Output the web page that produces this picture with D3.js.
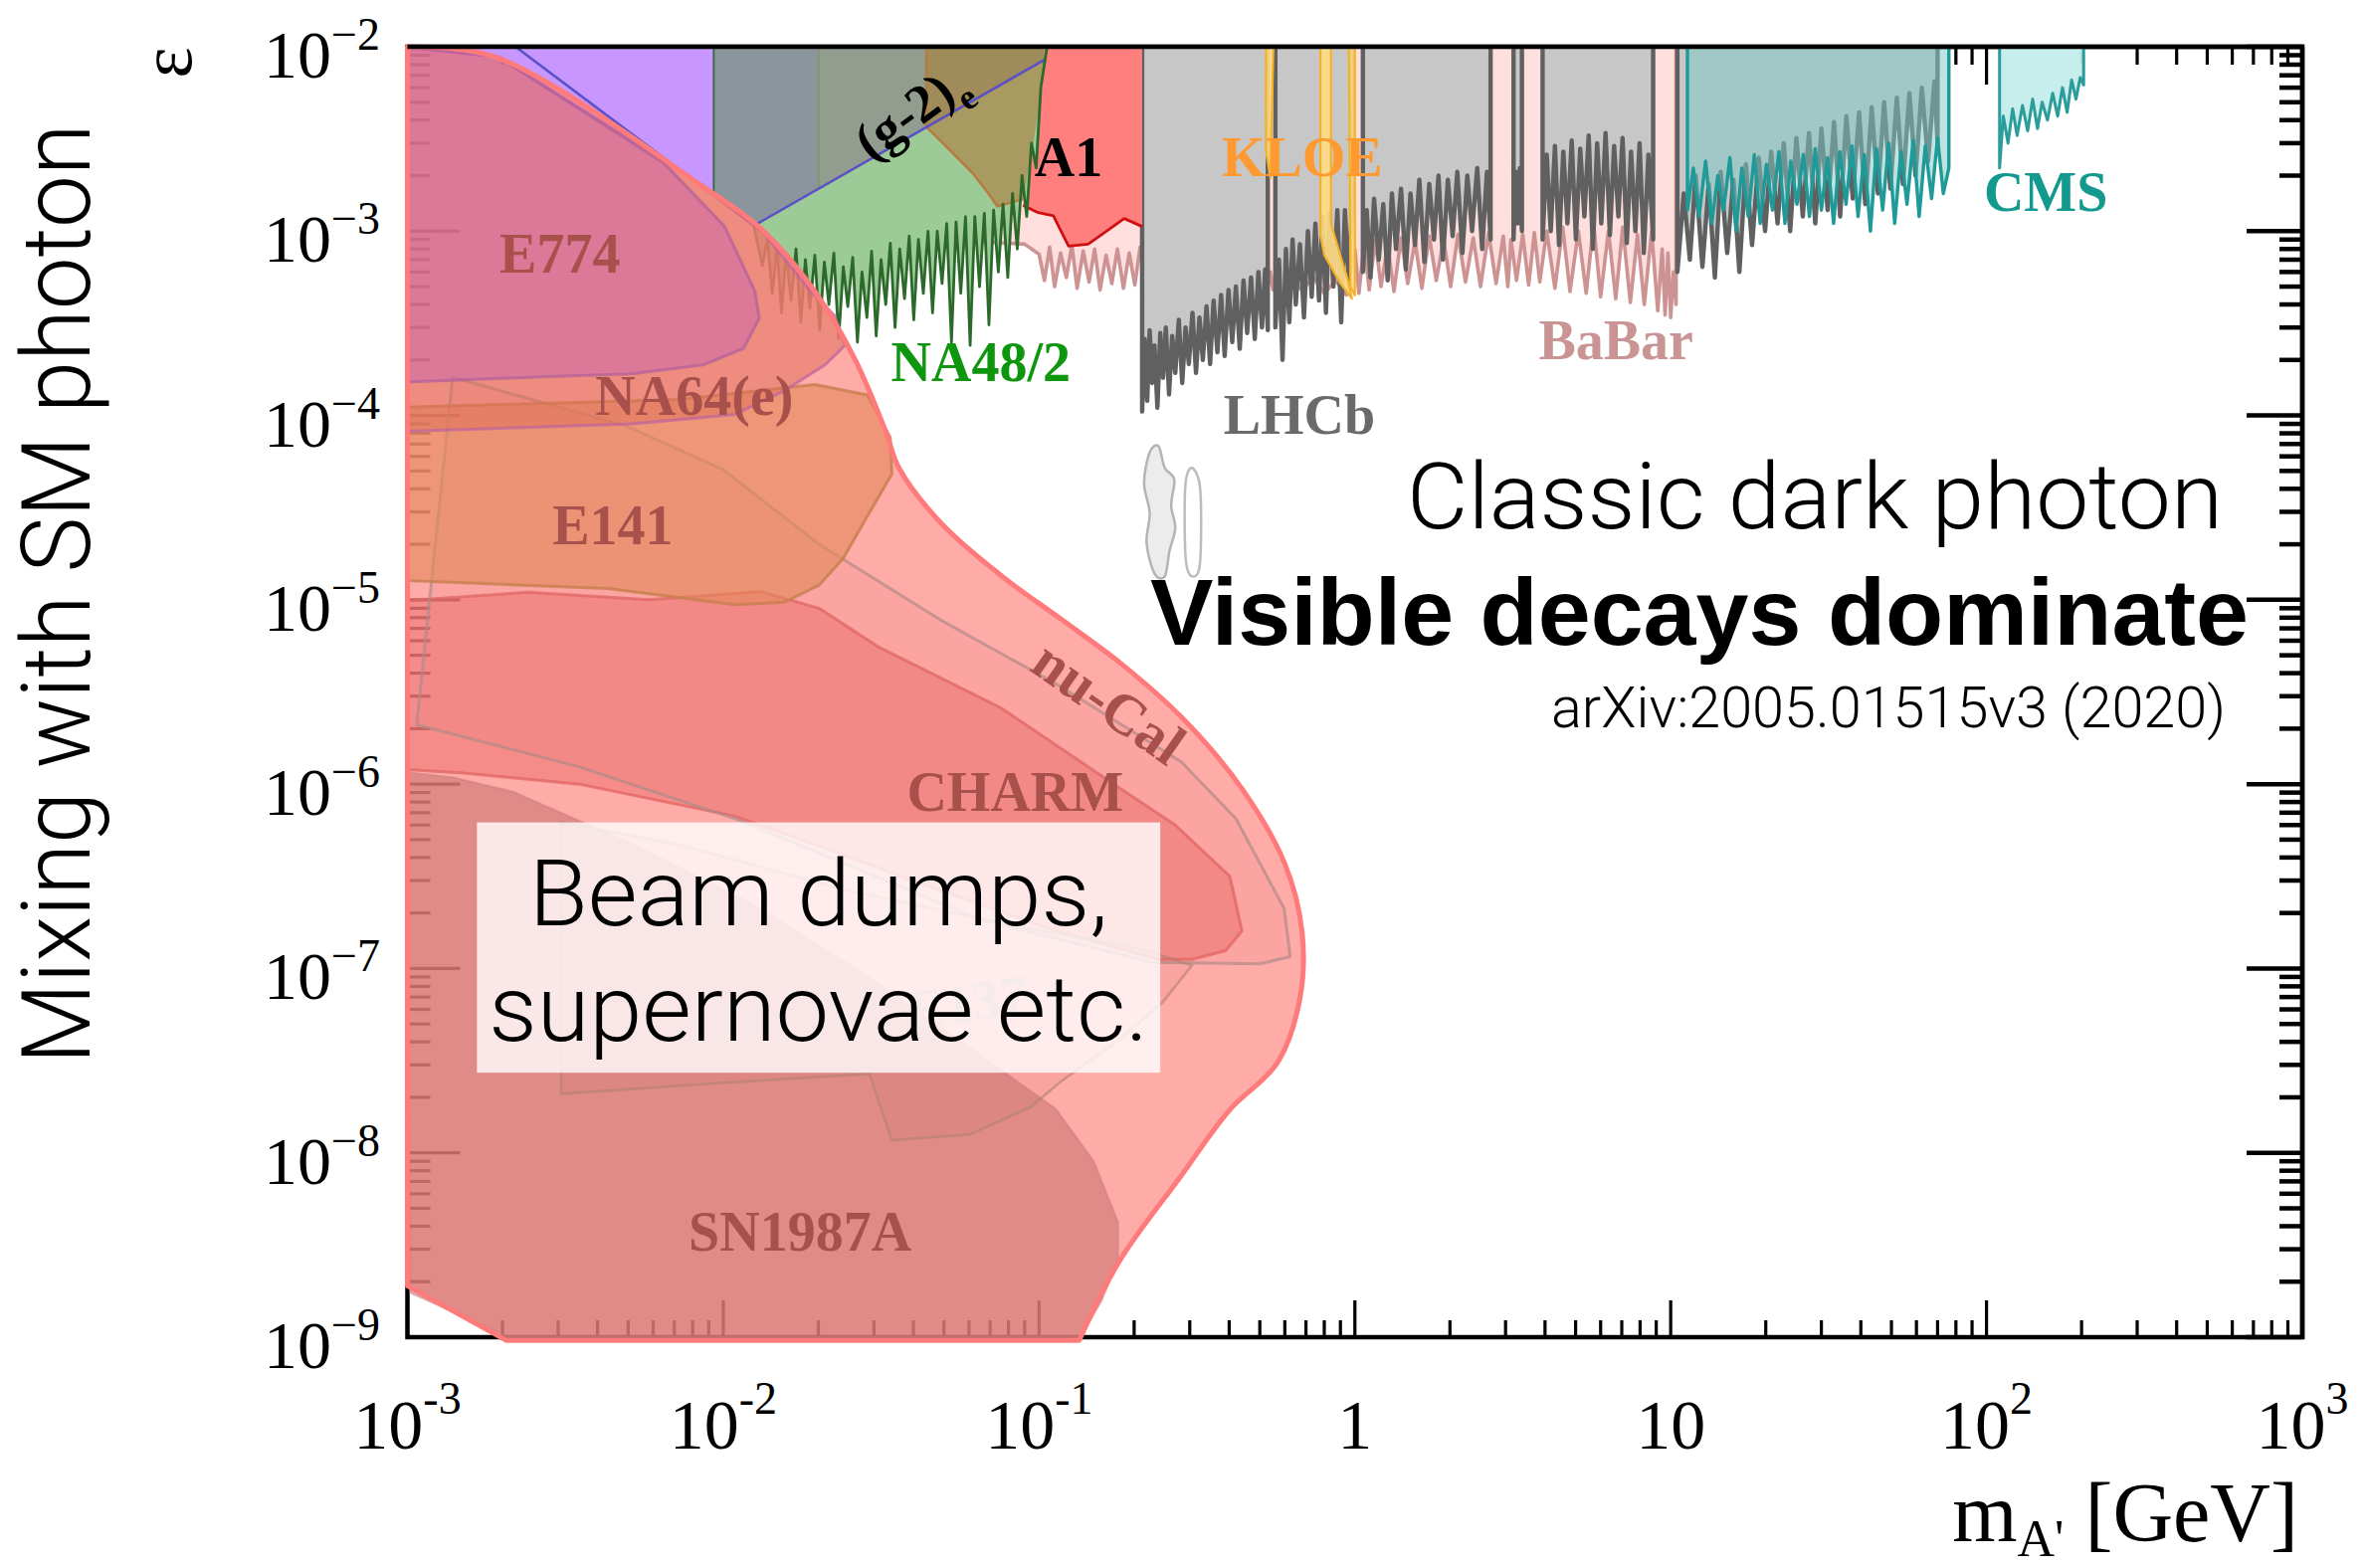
<!DOCTYPE html>
<html>
<head>
<meta charset="utf-8">
<script src="https://cdn.jsdelivr.net/npm/d3@7"></script>
<style>
  body { margin: 0; background: #fff; overflow: hidden; }
  svg { display: block; }
</style>
</head>
<body>
<script>
// Axis ticks and labels
var xMajor = [1e-3, 1e-2, 1e-1, 1, 10, 100, 1000];
var xTickBase = ["10", "10", "10", "1", "10", "10", "10"];
var xTickExp = ["-3", "-2", "-1", "", "", "2", "3"];
var yMajor = [1e-2, 1e-3, 1e-4, 1e-5, 1e-6, 1e-7, 1e-8, 1e-9];
var yTickExp = ["\u22122", "\u22123", "\u22124", "\u22125", "\u22126", "\u22127", "\u22128", "\u22129"];

// Regions, points are [mass in GeV, epsilon]
var purple = [[1.0e-3,1e-2],[9.33e-3,1e-2],[9.33e-3,1.58e-3],[6.0e-3,2.6e-3],[1.9e-3,8.8e-3],[1.0e-3,9.5e-3]];
var slate = [[9.33e-3,1e-2],[2.01e-2,1e-2],[2.01e-2,1.71e-3],[1.25e-2,1.07e-3],[9.33e-3,1.58e-3]];
var grayGreen = [[2.01e-2,1e-2],[4.4e-2,1e-2],[4.4e-2,3.67e-3],[2.01e-2,1.71e-3]];
var brownTop = [[4.4e-2,1e-2],[0.104,1e-2],[0.104,8.5e-3],[4.4e-2,3.67e-3]];
var olive = [[4.4e-2,3.67e-3],[0.104,8.5e-3],[0.102,5.8e-3],[9.5e-2,2.72e-3],[8.9e-2,1.49e-3],[8.24e-2,1.44e-3],[7.38e-2,1.36e-3],[6.84e-2,1.64e-3],[6.12e-2,2.09e-3],[4.91e-2,3.05e-3]];
var brownLine = [[4.4e-2,1e-2],[4.4e-2,3.67e-3],[4.91e-2,3.05e-3],[6.12e-2,2.09e-3],[6.84e-2,1.64e-3],[7.38e-2,1.36e-3],[8.24e-2,1.44e-3],[8.9e-2,1.49e-3]];
var g2Left = [[2.2e-3,1e-2],[1.25e-2,1.07e-3]];
var g2Right = [[1.25e-2,1.07e-3],[0.104,8.5e-3]];
var diagTop = [[0.104,8.5e-3],[1.25e-2,1.07e-3]];

var na48 = [[1.25e-2,1.07e-3],[0.0133,6.5e-4],[0.0138,9.0e-4],[0.0143,4.6e-4],[0.0148,8.2e-4],[0.0153,3.6e-4],[0.0158,7.6e-4],[0.0164,4.2e-4],[0.0170,8.0e-4],[0.0176,3.2e-4],[0.0182,7.0e-4],[0.0188,3.8e-4],[0.0195,7.4e-4],[0.0202,2.9e-4],[0.0209,6.8e-4],[0.0216,4.0e-4],[0.0224,7.6e-4],[0.0232,2.6e-4],[0.0240,6.4e-4],[0.0248,3.9e-4],[0.0257,7.2e-4],[0.0266,2.5e-4],[0.0275,6.0e-4],[0.0285,3.4e-4],[0.0295,7.8e-4],[0.0305,2.7e-4],[0.0316,7.0e-4],[0.0327,4.0e-4],[0.0338,8.6e-4],[0.0350,3.0e-4],[0.0362,8.0e-4],[0.0375,4.3e-4],[0.0388,9.4e-4],[0.0401,3.3e-4],[0.0415,9.0e-4],[0.0430,4.6e-4],[0.0445,1.0e-3],[0.0460,3.6e-4],[0.0476,1.0e-3],[0.0493,5.2e-4],[0.0510,1.1e-3],[0.0528,2.5e-4],[0.0546,1.12e-3],[0.0565,4.6e-4],[0.0585,1.2e-3],[0.0605,2.4e-4],[0.0626,1.2e-3],[0.0648,5.0e-4],[0.0671,1.25e-3],[0.0694,3.1e-4],[0.0718,1.3e-3],[0.0743,6.0e-4],[0.0769,1.4e-3],[0.0796,5.6e-4],[0.0824,1.6e-3],[0.0853,8.0e-4],[0.0883,2.0e-3],[0.0914,1.2e-3],[0.0946,3.0e-3],[0.0979,2.2e-3],[0.1013,6.0e-3],[0.106,1e-2]];

var a1 = [[0.104,1e-2],[0.212,1e-2],[0.212,1.06e-3],[0.186,1.17e-3],[0.161,9.8e-4],[0.143,8.5e-4],[0.124,8.3e-4],[0.111,1.21e-3],[9.93e-2,1.26e-3],[8.9e-2,1.38e-3],[9.5e-2,2.72e-3],[0.102,5.8e-3]];
var a1Line = [[8.9e-2,1.38e-3],[9.93e-2,1.26e-3],[0.111,1.21e-3],[0.124,8.3e-4],[0.143,8.5e-4],[0.161,9.8e-4],[0.186,1.17e-3],[0.212,1.06e-3]];

var babar = [[0.02,1e-2],[0.02,1.0e-3],[0.05,9e-4],[0.09,8.5e-4],[0.100,7.5e-4],[0.104,5.4e-4],[0.108,8.2e-4],[0.112,5.0e-4],[0.117,7.6e-4],[0.122,5.6e-4],[0.127,8.4e-4],[0.132,4.9e-4],[0.138,7.8e-4],[0.144,5.3e-4],[0.150,8.0e-4],[0.156,4.8e-4],[0.163,7.4e-4],[0.170,5.2e-4],[0.177,8.0e-4],[0.185,4.9e-4],[0.193,7.6e-4],[0.201,5.1e-4],[0.209,8.2e-4],[0.25,7e-4],[0.32,6.8e-4],[0.40,6.4e-4],[0.47,6.2e-4],[0.52,6.4e-4],[0.53,5.0e-4],[0.54,6.0e-4],[0.55,4.8e-4],[0.56,5.8e-4],[0.62,5.5e-4],[0.68,4.8e-4],[0.74,5.6e-4],[0.80,4.6e-4],[0.87,5.4e-4],[0.94,4.5e-4],[1.00,8.0e-4],[1.03,4.6e-4],[1.07,8.6e-4],[1.11,4.8e-4],[1.16,9.0e-4],[1.21,5.0e-4],[1.27,8.4e-4],[1.33,4.7e-4],[1.40,9.2e-4],[1.47,5.2e-4],[1.55,8.8e-4],[1.63,4.9e-4],[1.72,9.4e-4],[1.81,5.4e-4],[1.91,9.0e-4],[2.01,5.0e-4],[2.12,9.6e-4],[2.24,5.3e-4],[2.37,9.2e-4],[2.50,5.0e-4],[2.65,9.8e-4],[2.80,5.2e-4],[2.95,9.4e-4],[3.05,5.0e-4],[3.12,9.0e-4],[3.25,5.4e-4],[3.40,9.6e-4],[3.55,5.1e-4],[3.70,9.8e-4],[3.85,5.3e-4],[4.05,1.0e-3],[4.30,4.9e-4],[4.55,1.05e-3],[4.80,4.7e-4],[5.10,1.0e-3],[5.40,4.6e-4],[5.70,1.1e-3],[6.00,4.4e-4],[6.35,1.0e-3],[6.70,4.3e-4],[7.05,1.05e-3],[7.45,4.1e-4],[7.85,9.6e-4],[8.25,4.0e-4],[8.70,1.0e-3],[9.10,3.7e-4],[9.40,8.0e-4],[9.60,3.5e-4],[9.80,7.6e-4],[10.0,3.4e-4],[10.2,6.0e-4],[10.4,4.0e-4],[10.4,1e-2]];

var lhcb1 = [[0.212,1e-2],[0.212,1.05e-4],[0.216,2.6e-4],[0.220,1.2e-4],[0.224,2.9e-4],[0.228,1.5e-4],[0.232,2.4e-4],[0.237,1.1e-4],[0.242,2.8e-4],[0.247,1.6e-4],[0.252,3.0e-4],[0.258,1.3e-4],[0.264,2.7e-4],[0.270,1.7e-4],[0.277,3.3e-4],[0.284,1.5e-4],[0.291,3.0e-4],[0.298,1.9e-4],[0.306,3.6e-4],[0.314,1.7e-4],[0.322,3.4e-4],[0.330,2.0e-4],[0.339,3.9e-4],[0.348,1.9e-4],[0.357,4.2e-4],[0.367,2.2e-4],[0.377,4.5e-4],[0.387,2.1e-4],[0.398,4.8e-4],[0.409,2.5e-4],[0.420,5.0e-4],[0.432,2.3e-4],[0.444,5.4e-4],[0.456,2.8e-4],[0.469,5.6e-4],[0.482,2.6e-4],[0.495,6.0e-4],[0.508,3.0e-4],[0.52,6.2e-4],[0.53,2.9e-4],[0.53,1e-2]];
var lhcb2 = [[0.56,1e-2],[0.56,3.0e-4],[0.575,7.0e-4],[0.59,2.0e-4],[0.605,8.0e-4],[0.62,3.2e-4],[0.635,9.0e-4],[0.65,4.0e-4],[0.67,8.5e-4],[0.69,3.4e-4],[0.71,1.0e-3],[0.73,4.4e-4],[0.75,1.1e-3],[0.77,4.2e-4],[0.79,1.2e-3],[0.81,3.6e-4],[0.83,1.25e-3],[0.855,5.0e-4],[0.88,1.3e-3],[0.905,3.2e-4],[0.93,1.3e-3],[0.955,5.5e-4],[0.98,1.35e-3],[0.98,1e-2]];
var lhcb3 = [[1.06,1e-2],[1.06,6.0e-4],[1.09,1.3e-3],[1.12,5.6e-4],[1.15,1.5e-3],[1.19,7.0e-4],[1.23,1.4e-3],[1.27,5.4e-4],[1.31,1.6e-3],[1.35,8.0e-4],[1.40,1.7e-3],[1.45,6.2e-4],[1.50,1.6e-3],[1.55,8.4e-4],[1.60,1.9e-3],[1.66,6.8e-4],[1.72,1.8e-3],[1.78,9.0e-4],[1.84,2.0e-3],[1.90,7.0e-4],[1.97,1.9e-3],[2.04,9.4e-4],[2.11,2.1e-3],[2.19,7.6e-4],[2.27,2.0e-3],[2.35,1.0e-3],[2.44,2.2e-3],[2.53,8.0e-4],[2.62,2.1e-3],[2.69,9.0e-4],[2.69,1e-2]];
var lhcb4 = [[3.18,1e-2],[3.18,9e-4],[3.23,2.1e-3],[3.28,1.1e-3],[3.33,2.2e-3],[3.38,1.0e-3],[3.38,1e-2]];
var lhcb5 = [[3.93,1e-2],[3.93,9e-4],[4.05,2.6e-3],[4.17,1.0e-3],[4.30,2.9e-3],[4.43,8.4e-4],[4.57,2.7e-3],[4.71,1.1e-3],[4.86,3.1e-3],[5.01,9.0e-4],[5.17,2.8e-3],[5.33,1.2e-3],[5.50,3.3e-3],[5.67,8.0e-4],[5.85,3.0e-3],[6.03,1.1e-3],[6.22,3.4e-3],[6.42,9.5e-4],[6.62,2.9e-3],[6.83,1.2e-3],[7.04,3.2e-3],[7.26,8.6e-4],[7.49,2.7e-3],[7.73,1.0e-3],[7.97,3.0e-3],[8.22,7.6e-4],[8.5,2.6e-3],[8.8,9.0e-4],[8.8,1e-2]];
var lhcb6 = [[10.5,1e-2],[10.5,6.0e-4],[11.0,1.6e-3],[11.5,7.0e-4],[12.0,2.0e-3],[12.6,6.4e-4],[13.2,1.8e-3],[13.8,5.6e-4],[14.4,2.1e-3],[15.1,7.6e-4],[15.8,1.9e-3],[16.5,6.0e-4],[17.3,2.3e-3],[18.1,8.4e-4],[19.0,2.5e-3],[19.9,1.0e-3],[20.8,2.7e-3],[21.8,1.1e-3],[22.8,3.0e-3],[23.9,1.0e-3],[25.0,3.2e-3],[26.2,1.2e-3],[27.4,3.4e-3],[28.7,1.1e-3],[30.0,3.6e-3],[31.4,1.3e-3],[32.9,3.9e-3],[34.4,1.2e-3],[36.0,4.2e-3],[37.7,1.5e-3],[39.5,4.4e-3],[41.3,1.4e-3],[43.3,4.7e-3],[45.3,1.6e-3],[47.4,5.0e-3],[49.6,1.7e-3],[52.0,5.3e-3],[54.4,1.8e-3],[57.0,5.6e-3],[59.6,2.0e-3],[62.4,6.0e-3],[65.3,2.4e-3],[68.4,6.5e-3],[70,3.0e-3],[70,1e-2]];
var lhcbDisplacedA = [[0.224,6.3e-5],[0.239,6.8e-5],[0.25,5.2e-5],[0.268,4.5e-5],[0.262,3.25e-5],[0.27,2.45e-5],[0.259,1.85e-5],[0.25,1.34e-5],[0.232,1.39e-5],[0.219,2.03e-5],[0.224,2.96e-5],[0.215,4.3e-5]];
var lhcbDisplacedB = [[0.305,5.2e-5],[0.322,4.3e-5],[0.326,2.7e-5],[0.322,1.5e-5],[0.305,1.34e-5],[0.292,1.6e-5],[0.289,2.96e-5],[0.292,4.5e-5]];

var kloeA = [[0.523,1e-2],[0.552,1e-2],[0.54,1.94e-3],[0.523,2.72e-3]];
var kloeB = [[0.778,1e-2],[0.84,1e-2],[0.84,1.1e-3],[0.887,8.0e-4],[0.948,5.5e-4],[0.979,4.3e-4],[0.90,5.2e-4],[0.80,7.4e-4],[0.778,9.5e-4]];
var kloeC = [[0.958,1e-2],[1.0,1e-2],[1.0,4.47e-4],[0.968,5.0e-4]];

var cms1 = [[11.3,1e-2],[11.3,1.3e-3],[11.8,2.2e-3],[12.3,1.2e-3],[12.9,2.4e-3],[13.5,1.1e-3],[14.1,2.0e-3],[14.7,1.3e-3],[15.4,2.5e-3],[16.1,1.0e-3],[16.8,2.2e-3],[17.6,1.2e-3],[18.4,2.6e-3],[19.2,1.1e-3],[20.1,2.3e-3],[21.0,1.3e-3],[22.0,2.7e-3],[23.0,1.1e-3],[24.0,2.4e-3],[25.1,1.4e-3],[26.3,2.6e-3],[27.5,1.2e-3],[28.7,2.8e-3],[30.0,1.3e-3],[31.4,2.5e-3],[32.8,1.1e-3],[34.3,2.7e-3],[35.9,1.4e-3],[37.5,2.9e-3],[39.2,1.2e-3],[41.0,2.6e-3],[42.9,1.0e-3],[44.8,2.8e-3],[46.9,1.3e-3],[49.0,3.0e-3],[51.2,1.1e-3],[53.6,2.7e-3],[56.0,1.4e-3],[58.6,3.1e-3],[61.2,1.2e-3],[64.0,2.9e-3],[67.0,1.5e-3],[70.0,3.2e-3],[73.0,1.6e-3],[76,2.2e-3],[76,1e-2]];
var cms2 = [[110,1e-2],[110,2.2e-3],[113,4.2e-3],[117,3.0e-3],[121,4.6e-3],[125,3.3e-3],[130,4.8e-3],[135,3.5e-3],[140,5.2e-3],[145,3.6e-3],[150,5.0e-3],[156,4.0e-3],[162,5.6e-3],[168,4.2e-3],[174,6.0e-3],[180,4.4e-3],[186,6.6e-3],[192,5.2e-3],[198,6.8e-3],[203,6.2e-3],[203,1e-2]];

// Beam dump and supernova regions
var envelope = [[1.0e-3,1.0e-2],[1.9e-3,8.8e-3],[8.6e-3,1.75e-3],[1.35e-2,9.9e-4],[1.95e-2,4.7e-4],[2.6e-2,2.05e-4],[3.26e-2,8.3e-5],[3.6e-2,5.2e-5],[4.9e-2,2.6e-5],[7.6e-2,1.35e-5],[0.118,7.8e-6],[0.182,4.5e-6],[0.283,2.3e-6],[0.44,9.4e-7],[0.60,3.7e-7],[0.68,1.6e-7],[0.67,6.9e-8],[0.57,3.1e-8],[0.40,1.7e-8],[0.28,7.4e-9],[0.18,2.6e-9],[0.134,9.6e-10],[2.06e-3,9.6e-10],[1.0e-3,1.9e-9]];
var sn1987a = [[1.0e-3,1.16e-6],[1.39e-3,1.09e-6],[2.16e-3,9.1e-7],[5.2e-3,4.7e-7],[1.26e-2,2.2e-7],[3.0e-2,8.6e-8],[6.5e-2,3.4e-8],[0.113,1.73e-8],[0.149,9.0e-9],[0.178,4.2e-9],[0.178,2.64e-9],[0.158,1.58e-9],[0.135,1.0e-9],[2.1e-3,1.0e-9],[1.02e-3,1.74e-9]];
var charm = [[1.0e-3,9.9e-6],[2.41e-3,1.1e-5],[5.81e-3,1.0e-5],[1.31e-2,1.11e-5],[2.01e-2,9.0e-6],[3.13e-2,5.5e-6],[7.55e-2,2.6e-6],[0.182,9.4e-7],[0.27,6.0e-7],[0.402,3.16e-7],[0.439,1.6e-7],[0.39,1.25e-7],[0.305,1.12e-7],[0.239,1.12e-7],[0.113,1.6e-7],[4.7e-2,2.7e-7],[1.95e-2,4.7e-7],[1.09e-2,6.7e-7],[3.5e-3,1.0e-6],[1.5e-3,1.15e-6],[1.0e-3,1.2e-6]];
var nuCal = [[1.39e-3,1.61e-4],[4.9e-3,8.8e-5],[9.97e-3,5.1e-5],[2.01e-2,2.0e-5],[4.86e-2,7.8e-6],[0.117,3.39e-6],[0.282,1.32e-6],[0.42,6.5e-7],[0.597,2.12e-7],[0.624,1.16e-7],[0.50,1.06e-7],[0.227,1.08e-7],[6.54e-2,1.84e-7],[1.09e-2,6.5e-7],[3.51e-3,1.24e-6],[1.07e-3,2.1e-6]];
var e137 = [[3.07e-3,6.2e-7],[7.24e-3,4.7e-7],[2.43e-2,2.67e-7],[9.1e-2,1.66e-7],[0.22,1.25e-7],[0.305,1.04e-7],[0.245,6.5e-8],[0.176,4.0e-8],[0.117,2.43e-8],[9.4e-2,1.77e-8],[6.05e-2,1.26e-8],[3.42e-2,1.17e-8],[2.9e-2,2.68e-8],[1.01e-2,2.4e-8],[3.07e-3,2.09e-8]];
var e141 = [[1.0e-3,1.11e-4],[7.24e-3,1.22e-4],[1.95e-2,1.47e-4],[2.86e-2,1.29e-4],[3.38e-2,7.6e-5],[3.42e-2,4.83e-5],[2.9e-2,2.96e-5],[2.4e-2,1.68e-5],[2.01e-2,1.2e-5],[1.56e-2,9.7e-6],[1.09e-2,9.4e-6],[4.32e-3,1.15e-5],[1.45e-3,1.24e-5],[1.0e-3,1.27e-5]];
var na64 = [[1.0e-3,1.0e-2],[1.94e-3,8.8e-3],[8.63e-3,1.77e-3],[1.34e-2,9.8e-4],[1.89e-2,4.72e-4],[2.25e-2,3.49e-4],[2.43e-2,2.4e-4],[2.1e-2,1.88e-4],[1.56e-2,1.36e-4],[1.08e-2,1.01e-4],[5.15e-3,9.0e-5],[1.0e-3,8.2e-5]];
var e774 = [[1.0e-3,1.0e-2],[1.94e-3,8.8e-3],[6.49e-3,2.34e-3],[1.01e-2,1.06e-3],[1.26e-2,4.72e-4],[1.3e-2,3.37e-4],[1.16e-2,2.31e-4],[8.63e-3,1.88e-4],[5.15e-3,1.68e-4],[2.44e-3,1.61e-4],[1.0e-3,1.52e-4]];

// Text box corners and experiment labels
var boxCorners = [[1.66e-3,6.2e-7],[0.242,2.72e-8]];
var labelNames = ["E774", "NA64(e)", "E141", "nu-Cal", "CHARM", "E137", "SN1987A", "NA48/2", "A1", "KLOE", "LHCb", "BaBar", "CMS"];
var labelPos = [[3.04e-3,7.6e-4],[8.1e-3,1.29e-4],[4.47e-3,2.55e-5],[0.167,2.8e-6],[8.4e-2,9.1e-7],[5.93e-2,6.6e-8],[1.75e-2,3.77e-9],[6.54e-2,1.95e-4],[0.124,2.53e-3],[0.681,2.55e-3],[0.667,1.01e-4],[6.71,2.58e-4],[154,1.64e-3]];
var g2Pos = [3.9e-2, 4.5e-3];

var W = 2378, H = 1576;
var plot = {left: 409.5, right: 2314, top: 47, bottom: 1344};

var svg = d3.select("body").append("svg")
    .attr("width", W)
    .attr("height", H);

svg.append("rect").attr("width", W).attr("height", H).attr("fill", "#fff");

var x = d3.scaleLog().domain([1e-3, 1e3]).range([plot.left, plot.right]);
var y = d3.scaleLog().domain([1e-9, 1e-2]).range([plot.bottom, plot.top]);

var line = d3.line().x(function(d) { return x(d[0]); }).y(function(d) { return y(d[1]); });
var smooth = d3.line().curve(d3.curveCardinalClosed).x(function(d) { return x(d[0]); }).y(function(d) { return y(d[1]); });
var rounded = d3.line().curve(d3.curveCatmullRom).x(function(d) { return x(d[0]); }).y(function(d) { return y(d[1]); });

function isMajor(v) {
    var l = Math.log10(v);
    return Math.abs(l - Math.round(l)) < 1e-6;
}

// Ticks first, so the semi-transparent regions sit over them
var ticks = svg.append("g").attr("stroke", "#000").attr("stroke-width", 3.2);
x.ticks().forEach(function(t) {
    var big = isMajor(t);
    ticks.append("line").attr("x1", x(t)).attr("x2", x(t))
        .attr("y1", plot.bottom).attr("y2", plot.bottom - (big ? 37 : 17));
    ticks.append("line").attr("x1", x(t)).attr("x2", x(t))
        .attr("y1", plot.top).attr("y2", plot.top + (big ? 38 : 18));
});
y.ticks().forEach(function(t) {
    var big = isMajor(t);
    ticks.append("line").attr("y1", y(t)).attr("y2", y(t))
        .attr("x1", plot.left).attr("x2", plot.left + (big ? 53 : 23));
    ticks.append("line").attr("y1", y(t)).attr("y2", y(t))
        .attr("x1", plot.right).attr("x2", plot.right - (big ? 56 : 23))
        .attr("stroke-width", 4.5);
});

svg.append("rect")
    .attr("x", plot.left).attr("y", plot.top)
    .attr("width", plot.right - plot.left).attr("height", plot.bottom - plot.top)
    .attr("fill", "none").attr("stroke", "#000").attr("stroke-width", 4.5);

var regions = svg.append("g");

function fillArea(pts, color, op) {
    return regions.append("path")
        .attr("d", line(pts) + "Z")
        .attr("fill", color)
        .attr("fill-opacity", op == null ? 1 : op)
        .attr("stroke", "none");
}
function strokeLine(pts, color, width, op, closed) {
    return regions.append("path")
        .attr("d", line(pts) + (closed ? "Z" : ""))
        .attr("fill", "none")
        .attr("stroke", color)
        .attr("stroke-width", width)
        .attr("stroke-opacity", op == null ? 1 : op)
        .attr("stroke-linejoin", "round");
}

// BaBar
fillArea(babar, "#ffdede");
strokeLine(babar, "#cd9393", 3.6);

// LHCb
var lhcbSegs = [lhcb1, lhcb2, lhcb3, lhcb4, lhcb5, lhcb6];
lhcbSegs.forEach(function(seg) { fillArea(seg, "#c7c7c7"); });
lhcbSegs.forEach(function(seg) { strokeLine(seg, "#606060", 4.4); });
regions.append("path").attr("d", smooth(lhcbDisplacedA))
    .attr("fill", "#ececec").attr("stroke", "#b4b4b4").attr("stroke-width", 2.5);
regions.append("path").attr("d", smooth(lhcbDisplacedB))
    .attr("fill", "none").attr("stroke", "#bcbcbc").attr("stroke-width", 2.5);

// KLOE
[kloeA, kloeB, kloeC].forEach(function(p) {
    fillArea(p, "#ffdb85", 0.9);
    strokeLine(p, "#f2b22a", 2.2, 1, true);
});

// CMS
fillArea(cms1, "#7cc8c8", 0.5);
strokeLine(cms1, "#1f9a98", 3.4);
fillArea(cms2, "#c4ecec", 0.95);
strokeLine(cms2, "#2a9d9b", 3.0);

// A1
fillArea(a1, "#ff7f7f");
strokeLine(a1Line, "#d01010", 2.8);

// (g-2) and NA48/2 corner
fillArea(purple, "#c896ff");
fillArea(slate, "#8a969c");
fillArea(grayGreen, "#929d8f");
fillArea(brownTop, "#a08b5b");
fillArea(na48.concat(diagTop), "#9ccb98");
fillArea(olive, "#a89a60");
strokeLine([[9.33e-3,1e-2],[9.33e-3,1.58e-3]], "#3e6a50", 2);
strokeLine([[2.01e-2,1e-2],[2.01e-2,1.71e-3]], "#7f9a6a", 2);
strokeLine(brownLine, "#b8783a", 2.6, 0.9);
strokeLine(g2Left, "#5a50c8", 2.6);
strokeLine(g2Right, "#5a50c8", 2.6);
strokeLine(na48, "#2c6a2c", 2.8);

// Beam dumps and SN1987A; the envelope's curved side is smoothed, the straight edges kept
var envPath = rounded(envelope.slice(0, 22)) +
    envelope.slice(22).map(function(d) { return "L" + x(d[0]) + "," + y(d[1]); }).join("") + "Z";
regions.append("path").attr("d", envPath)
    .attr("fill", "#ff8a86").attr("fill-opacity", 0.72);
fillArea(sn1987a, "#c16c68", 0.5);
strokeLine(sn1987a, "#c87a78", 2, 0.45, true);
fillArea(charm, "#e85f5d", 0.4);
strokeLine(charm, "#e06462", 3, 0.75, true);
fillArea(nuCal, "#e07070", 0.12);
strokeLine(nuCal, "#b08a88", 3, 0.7, true);
fillArea(e137, "#c86a60", 0.1);
strokeLine(e137, "#b3806e", 2.6, 0.6, true);
fillArea(e141, "#e48958", 0.6);
strokeLine(e141, "#c98050", 3, 0.85, true);
fillArea(na64, "#dd6e58", 0.5);
strokeLine(na64, "#c0649c", 3, 0.75, true);
fillArea(e774, "#cd68ac", 0.55);
strokeLine(e774, "#b0609a", 3, 0.7, true);
regions.append("path").attr("d", envPath)
    .attr("fill", "none").attr("stroke", "#ff7a7a").attr("stroke-width", 5)
    .attr("stroke-linejoin", "round");

// Top and right frame lines over the regions
svg.append("line").attr("x1", plot.left).attr("x2", plot.right + 2)
    .attr("y1", plot.top).attr("y2", plot.top)
    .attr("stroke", "#000").attr("stroke-width", 4.5);
svg.append("line").attr("x1", plot.right).attr("x2", plot.right)
    .attr("y1", plot.top).attr("y2", plot.bottom + 2)
    .attr("stroke", "#000").attr("stroke-width", 4.5);

// Experiment labels
var labelColor = {
    "E774": "#a8504b", "NA64(e)": "#a8504b", "E141": "#a8504b", "nu-Cal": "#a8504b",
    "CHARM": "#a8504b", "E137": "#c79a98", "SN1987A": "#a8504b", "NA48/2": "#0e960e",
    "A1": "#000", "KLOE": "#ff9a33", "LHCb": "#6a6a6a", "BaBar": "#c99494", "CMS": "#14998f"
};
var labelRotate = {"nu-Cal": 35, "E137": -8};

svg.append("g").selectAll("text")
    .data(labelNames)
    .enter()
    .append("text")
    .attr("transform", function(d, i) {
        return "translate(" + x(labelPos[i][0]) + "," + y(labelPos[i][1]) + ")rotate(" + (labelRotate[d] || 0) + ")";
    })
    .attr("text-anchor", "middle")
    .attr("dy", "0.35em")
    .attr("font-family", "'Liberation Serif', 'DejaVu Serif', serif")
    .attr("font-weight", "bold")
    .attr("font-size", function(d) { return d == "nu-Cal" ? 58 : 56; })
    .attr("fill", function(d) { return labelColor[d]; })
    .text(function(d) { return d; });

var g2 = svg.append("text")
    .attr("transform", "translate(" + x(g2Pos[0]) + "," + y(g2Pos[1]) + ")rotate(-36)")
    .attr("text-anchor", "middle")
    .attr("dy", "0.35em")
    .attr("font-family", "'Liberation Serif', serif")
    .attr("font-weight", "bold")
    .attr("font-size", 54)
    .attr("fill", "#000");
g2.append("tspan").text("(g-2)");
g2.append("tspan").attr("dy", 16).attr("font-size", 36).text("e");

// Beam dumps box
var bx0 = x(boxCorners[0][0]), by0 = y(boxCorners[0][1]);
var bx1 = x(boxCorners[1][0]), by1 = y(boxCorners[1][1]);
svg.append("rect")
    .attr("x", bx0).attr("y", by0)
    .attr("width", bx1 - bx0).attr("height", by1 - by0)
    .attr("fill", "#fff").attr("fill-opacity", 0.8);

var sans = "'Roboto', 'Liberation Sans', sans-serif";
svg.append("text")
    .attr("x", (bx0 + bx1) / 2).attr("y", by0 + 103)
    .attr("text-anchor", "middle")
    .attr("font-family", sans).attr("font-weight", 300).attr("font-size", 92)
    .attr("textLength", 582).attr("lengthAdjust", "spacingAndGlyphs")
    .text("Beam dumps,");
svg.append("text")
    .attr("x", (bx0 + bx1) / 2).attr("y", by0 + 219)
    .attr("text-anchor", "middle")
    .attr("font-family", sans).attr("font-weight", 300).attr("font-size", 92)
    .attr("textLength", 663).attr("lengthAdjust", "spacingAndGlyphs")
    .text("supernovae etc.");

// Right hand annotation
svg.append("text")
    .attr("x", 2234).attr("y", 531)
    .attr("text-anchor", "end")
    .attr("font-family", sans).attr("font-weight", 300).attr("font-size", 93)
    .attr("textLength", 820).attr("lengthAdjust", "spacingAndGlyphs")
    .text("Classic dark photon");
svg.append("text")
    .attr("x", 2260).attr("y", 648)
    .attr("text-anchor", "end")
    .attr("font-family", "'Liberation Sans', 'Roboto', sans-serif").attr("font-weight", "bold").attr("font-size", 95)
    .attr("textLength", 1104).attr("lengthAdjust", "spacingAndGlyphs")
    .text("Visible decays dominate");
svg.append("text")
    .attr("x", 2237).attr("y", 731)
    .attr("text-anchor", "end")
    .attr("font-family", sans).attr("font-weight", 300).attr("font-size", 57)
    .attr("textLength", 678).attr("lengthAdjust", "spacingAndGlyphs")
    .text("arXiv:2005.01515v3 (2020)");

// Tick labels
var serif = "'Liberation Serif', 'DejaVu Serif', serif";
svg.append("g").selectAll("text")
    .data(xMajor)
    .enter()
    .append("text")
    .attr("x", function(d) { return x(d); })
    .attr("y", 1456)
    .attr("text-anchor", "middle")
    .attr("font-family", serif)
    .attr("font-size", 70)
    .each(function(d, i) {
        var t = d3.select(this);
        t.append("tspan").text(xTickBase[i]);
        if (xTickExp[i]) t.append("tspan").attr("dy", -35).attr("font-size", 46).text(xTickExp[i]);
    });

svg.append("g").selectAll("text")
    .data(yMajor)
    .enter()
    .append("text")
    .attr("x", 382)
    .attr("y", function(d) { return y(d) + 31; })
    .attr("text-anchor", "end")
    .attr("font-family", serif)
    .attr("font-size", 68)
    .each(function(d, i) {
        var t = d3.select(this);
        t.append("tspan").text("10");
        t.append("tspan").attr("dy", -28).attr("font-size", 46).text(yTickExp[i]);
    });

// Axis titles
var xt = svg.append("text")
    .attr("x", 2310).attr("y", 1549)
    .attr("text-anchor", "end")
    .attr("font-family", serif)
    .attr("font-size", 84);
xt.append("tspan").text("m");
xt.append("tspan").attr("dy", 15).attr("font-size", 52).text("A'");
xt.append("tspan").attr("dy", -15).text(" [GeV]");

svg.append("text")
    .attr("transform", "translate(90,597)rotate(-90)")
    .attr("text-anchor", "middle")
    .attr("font-family", sans).attr("font-weight", 300).attr("font-size", 96)
    .attr("textLength", 945).attr("lengthAdjust", "spacingAndGlyphs")
    .text("Mixing with SM photon");

svg.append("text")
    .attr("transform", "translate(166,63)rotate(-90)")
    .attr("text-anchor", "middle")
    .attr("dy", "0.35em")
    .attr("font-family", serif)
    .attr("font-size", 74)
    .text("\u03b5");
</script>
</body>
</html>
